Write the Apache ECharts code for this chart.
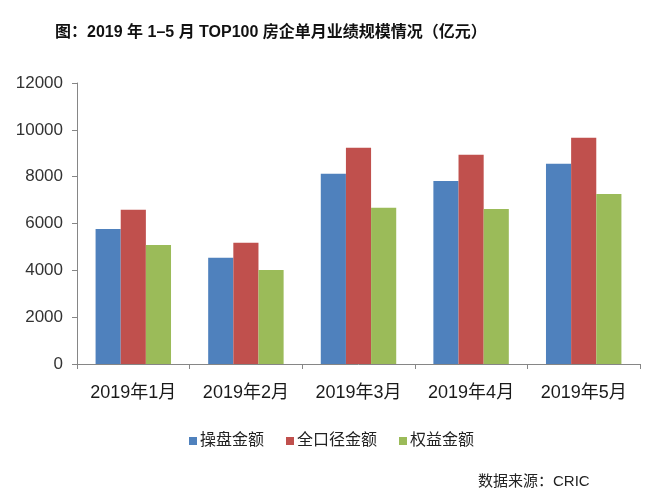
<!DOCTYPE html>
<html>
<head>
<meta charset="utf-8">
<script src="https://cdn.jsdelivr.net/npm/echarts@6/dist/echarts.min.js"></script>
<style>
  html, body { margin: 0; padding: 0; background: #fff; }
  #chart { width: 650px; height: 495px; }
</style>
</head>
<body>
<div id="chart"></div>
<script>
// 月份
var months = ['2019年1月', '2019年2月', '2019年3月', '2019年4月', '2019年5月'];
// 三个口径（亿元）
var caopan = [5770, 4540, 8120, 7820, 8550];
var quankoujing = [6590, 5180, 9230, 8940, 9660];
var quanyi = [5085, 4015, 6670, 6620, 7265];

var chart = echarts.init(document.getElementById('chart'));

var font = 'Arial, "Liberation Sans", "Noto Sans CJK SC", sans-serif';

chart.setOption({
  animation: false,
  color: ['#4F81BD', '#C0504D', '#9BBB59'],
  title: {
    text: '图：2019 年 1–5 月 TOP100 房企单月业绩规模情况（亿元）',
    left: 50,
    top: 20,
    textStyle: { fontSize: 16, fontWeight: 'bold', color: '#111', fontFamily: font }
  },
  legend: {
    left: 184,
    top: 428,
    itemWidth: 8,
    itemHeight: 8,
    itemGap: 22,
    icon: 'rect',
    textStyle: { fontSize: 16, color: '#222', fontFamily: font, padding: [0, 0, 0, -2] },
    data: ['操盘金额', '全口径金额', '权益金额']
  },
  graphic: [{
    type: 'text',
    left: 478,
    top: 474,
    style: { text: '数据来源：CRIC', fontSize: 15, fill: '#222', fontFamily: font }
  }],
  grid: { left: 77, right: 10, top: 83, bottom: 131 },
  xAxis: {
    type: 'category',
    data: months,
    axisLine: { lineStyle: { color: '#868686', width: 1 } },
    axisTick: { show: true, length: 5, lineStyle: { color: '#868686' } },
    axisLabel: { fontSize: 18, color: '#1a1a1a', margin: 20, fontFamily: font }
  },
  yAxis: {
    type: 'value',
    min: 0,
    max: 12000,
    interval: 2000,
    splitLine: { show: false },
    axisLine: { show: true, lineStyle: { color: '#868686', width: 1 } },
    axisTick: { show: true, length: 5, lineStyle: { color: '#868686' } },
    axisLabel: {
      fontSize: 17, color: '#333', margin: 14, fontFamily: font,
      formatter: function (v) { return String(v); }
    }
  },
  series: [
    { name: '操盘金额', type: 'bar', data: caopan, barGap: '0%', barCategoryGap: '33%' },
    { name: '全口径金额', type: 'bar', data: quankoujing, barGap: '0%', barCategoryGap: '33%' },
    { name: '权益金额', type: 'bar', data: quanyi, barGap: '0%', barCategoryGap: '33%' }
  ]
});
</script>
</body>
</html>
